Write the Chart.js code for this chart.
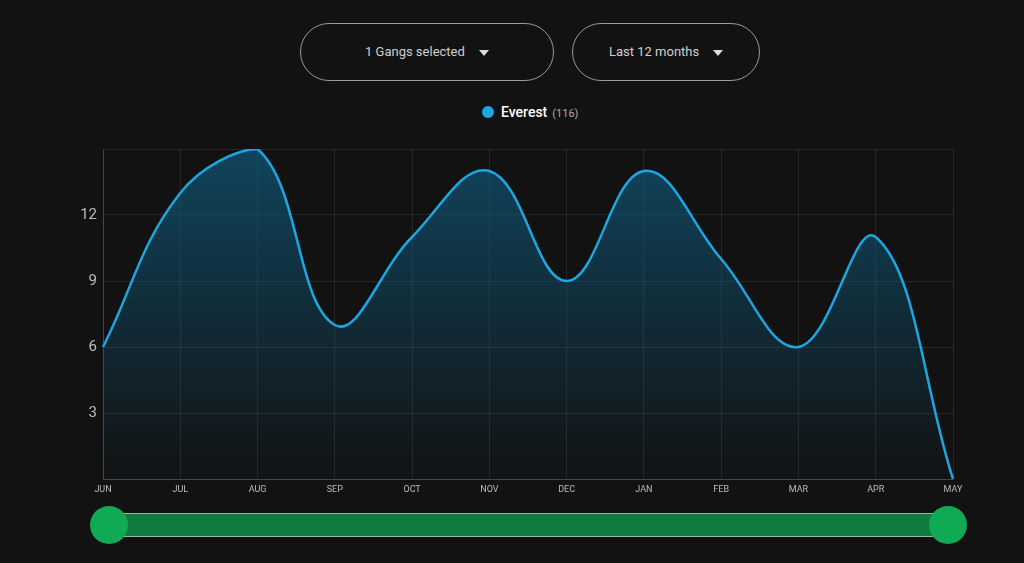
<!DOCTYPE html>
<html>
<head>
<meta charset="utf-8">
<script src="https://cdn.jsdelivr.net/npm/chart.js@4/dist/chart.umd.min.js"></script>
<style>
  html, body { margin: 0; padding: 0; background: #121212; width: 1024px; height: 563px; overflow: hidden; font-family: Roboto, sans-serif; }
  .btn { position: absolute; top: 23px; height: 58px; border: 1px solid #9a9a9a; border-radius: 29px; color: #cfcfcf; font-size: 13px; box-sizing: border-box; }
  .btn span { position: absolute; top: 20px; }
  .arrow { position: absolute; top: 26px; width: 0; height: 0; border-left: 5px solid transparent; border-right: 5px solid transparent; border-top: 6px solid #ddd; }
  #legend { position: absolute; top: 104px; left: 482px; color: #fff; font-size: 14px; font-weight: 500; white-space: nowrap; }
  #legend .dot { display: inline-block; width: 12px; height: 12px; border-radius: 50%; background: #1ea6e0; vertical-align: -1px; margin-right: 7px; }
  #legend .cnt { color: #aaa; font-size: 11px; font-weight: normal; margin-left: 5px; }
  #wrap { position: absolute; left: 0; top: 134px; width: 1024px; height: 365px; }
  .track { position: absolute; left: 108px; top: 513px; width: 840px; height: 24px; background: #117a3e; border-top: 1px solid #8fbf9f; border-bottom: 1px solid #8fbf9f; box-sizing: border-box; }
  .knob { position: absolute; top: 506px; width: 38px; height: 38px; border-radius: 50%; background: #10aa55; }
</style>
</head>
<body>
<div class="btn" style="left:300px;width:254px;"><span style="left:64px;">1 Gangs selected</span><div class="arrow" style="left:178px;"></div></div>
<div class="btn" style="left:572px;width:188px;"><span style="left:36px;">Last 12 months</span><div class="arrow" style="left:140px;"></div></div>
<div id="legend"><span class="dot"></span>Everest<span class="cnt">(116)</span></div>
<div id="wrap"><canvas id="myChart"></canvas></div>
<div class="track"></div>
<div class="knob" style="left:90px;"></div>
<div class="knob" style="left:929px;"></div>
<script>
const months = ['JUN', 'JUL', 'AUG', 'SEP', 'OCT', 'NOV', 'DEC', 'JAN', 'FEB', 'MAR', 'APR', 'MAY'];
const everest = [6, 13, 15, 7, 11, 14, 9, 14, 10, 6, 11, 0];
const yTicks = [3, 6, 9, 12];

const ctx = document.getElementById('myChart').getContext('2d');

const myChart = new Chart(ctx, {
    type: 'line',
    data: {
        labels: months,
        datasets: [{
            label: 'Everest',
            data: everest,
            borderColor: '#1ea6e0',
            borderWidth: 2.5,
            pointRadius: 0,
            tension: 0.4,
            fill: true,
            backgroundColor: function (c) {
                const area = c.chart.chartArea;
                if (!area) return 'rgba(14,80,110,0.6)';
                const g = c.chart.ctx.createLinearGradient(0, area.top, 0, area.bottom);
                g.addColorStop(0, 'rgba(16,88,122,0.72)');
                g.addColorStop(1, 'rgba(16,88,122,0.02)');
                return g;
            }
        }]
    },
    options: {
        responsive: true,
        maintainAspectRatio: false,
        animation: false,
        layout: { padding: { top: 3, right: 71, left: 0, bottom: 0 } },
        plugins: {
            legend: { display: false },
            tooltip: { enabled: false }
        },
        scales: {
            x: {
                grid: { color: 'rgba(255,255,255,0.09)', drawTicks: false },
                border: { color: 'rgba(255,255,255,0.15)' },
                ticks: { color: '#bbb', font: { family: 'Roboto', size: 9 }, padding: 5, maxRotation: 0 },
                afterFit: function (s) { s.height = 20; }
            },
            y: {
                min: 0,
                max: 15,
                grid: { color: 'rgba(255,255,255,0.09)', drawTicks: false },
                border: { color: 'rgba(255,255,255,0.15)' },
                ticks: {
                    stepSize: 3,
                    color: '#bbb',
                    font: { family: 'Roboto', size: 15 },
                    padding: 6,
                    callback: function (v) { return yTicks.includes(v) ? v : ''; }
                },
                afterFit: function (s) { s.width = 103; }
            }
        }
    }
});
</script>
</body>
</html>
